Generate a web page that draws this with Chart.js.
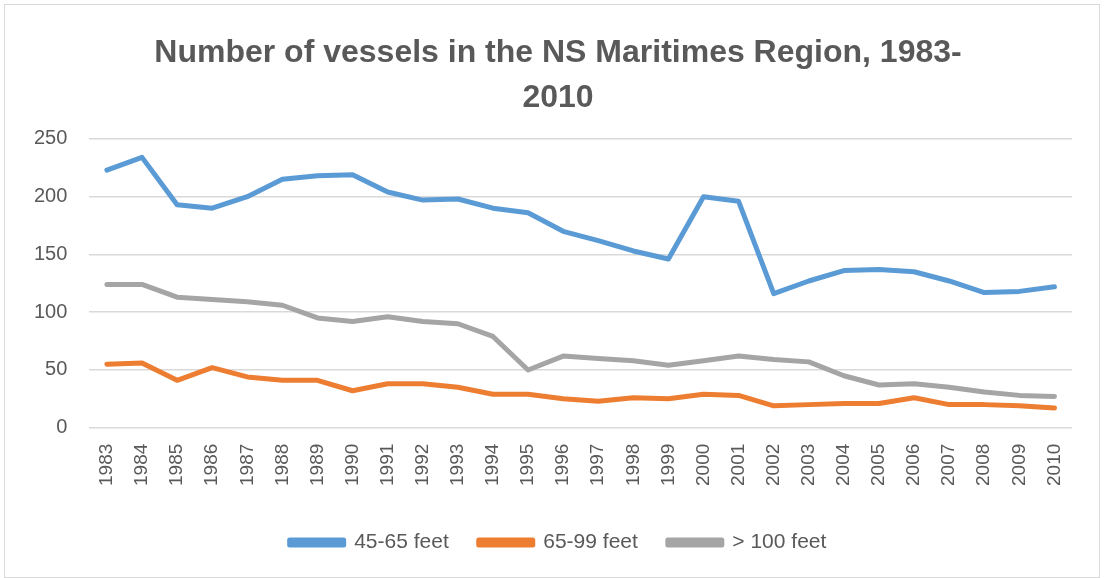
<!DOCTYPE html>
<html>
<head>
<meta charset="utf-8">
<script src="https://cdn.jsdelivr.net/npm/chart.js@4/dist/chart.umd.min.js"></script>
<style>
    body { margin: 0; background: #fff; }
    canvas { display: block; }
</style>
</head>
<body>
<canvas id="vessels" width="1104" height="578"></canvas>
<script>
const years = ["1983", "1984", "1985", "1986", "1987", "1988", "1989", "1990", "1991", "1992",
    "1993", "1994", "1995", "1996", "1997", "1998", "1999", "2000", "2001", "2002",
    "2003", "2004", "2005", "2006", "2007", "2008", "2009", "2010"];

const feet45to65 = [223, 234, 193, 190, 200, 215, 218, 219, 204, 197,
    198, 190, 186, 170, 162, 153, 146, 200, 196, 116,
    127, 136, 137, 135, 127, 117, 118, 122];

const feet65to99 = [55, 56, 41, 52, 44, 41, 41, 32, 38, 38,
    35, 29, 29, 25, 23, 26, 25, 29, 28, 19,
    20, 21, 21, 26, 20, 20, 19, 17];

const feetOver100 = [124, 124, 113, 111, 109, 106, 95, 92, 96, 92,
    90, 79, 50, 62, 60, 58, 54, 58, 62, 59,
    57, 45, 37, 38, 35, 31, 28, 27];

const yTicks = [0, 50, 100, 150, 200, 250];

const textColor = "#595959";
const gridColor = "#d9d9d9";

// light frame round the whole chart, like the Excel chart area
const frame = {
    id: "frame",
    beforeDraw(chart) {
        const c = chart.ctx;
        c.save();
        c.fillStyle = "#fff";
        c.fillRect(0, 0, chart.width, chart.height);
        c.strokeStyle = gridColor;
        c.lineWidth = 1;
        c.strokeRect(4.5, 4.5, chart.width - 9, chart.height - 5);
        c.restore();
    }
};

// Excel centres title and legend on the whole chart, not on the plot+axis box
const recentre = {
    id: "recentre",
    afterLayout(chart) {
        [chart.titleBlock, chart.legend].forEach(box => {
            box.left += 16;
            box.right += 16;
        });
    }
};

function series(label, values, color) {
    return {
        label: label,
        data: values,
        borderColor: color,
        backgroundColor: color,
        borderWidth: 5,
        borderCapStyle: "round",
        borderJoinStyle: "round",
        pointRadius: 0,
        tension: 0
    };
}

new Chart(document.getElementById("vessels"), {
    type: "line",
    data: {
        labels: years,
        datasets: [
            series("45-65 feet", feet45to65, "#5b9bd5"),
            series("65-99 feet", feet65to99, "#ed7d31"),
            series("> 100 feet", feetOver100, "#a5a5a5")
        ]
    },
    plugins: [frame, recentre],
    options: {
        responsive: false,
        animation: false,
        devicePixelRatio: 1,
        layout: { padding: { left: 12, right: 32, top: 18, bottom: 15 } },
        plugins: {
            title: {
                display: true,
                text: ["Number of vessels in the NS Maritimes Region, 1983-", "2010"],
                color: textColor,
                font: { family: "'Liberation Sans', Arial, sans-serif", size: 32, weight: "bold", lineHeight: 1.42 },
                padding: { top: 12, bottom: 18 }
            },
            legend: {
                position: "bottom",
                labels: {
                    color: textColor,
                    font: { family: "'Liberation Sans', Arial, sans-serif", size: 21 },
                    boxWidth: 54,
                    boxHeight: 5,
                    padding: 30
                }
            },
            tooltip: { enabled: false }
        },
        scales: {
            x: {
                offset: true,
                grid: { display: false, drawTicks: false },
                border: { display: false },
                ticks: {
                    color: textColor,
                    font: { family: "'Liberation Sans', Arial, sans-serif", size: 19 },
                    minRotation: 90,
                    maxRotation: 90,
                    autoSkip: false,
                    padding: 16
                }
            },
            y: {
                min: 0,
                max: 250,
                afterBuildTicks: axis => { axis.ticks = yTicks.map(v => ({ value: v })); },
                grid: { color: gridColor, lineWidth: 1.5, drawTicks: false },
                border: { display: false },
                ticks: {
                    color: textColor,
                    font: { family: "'Liberation Sans', Arial, sans-serif", size: 20 },
                    padding: 22
                }
            }
        }
    }
});
</script>
</body>
</html>
